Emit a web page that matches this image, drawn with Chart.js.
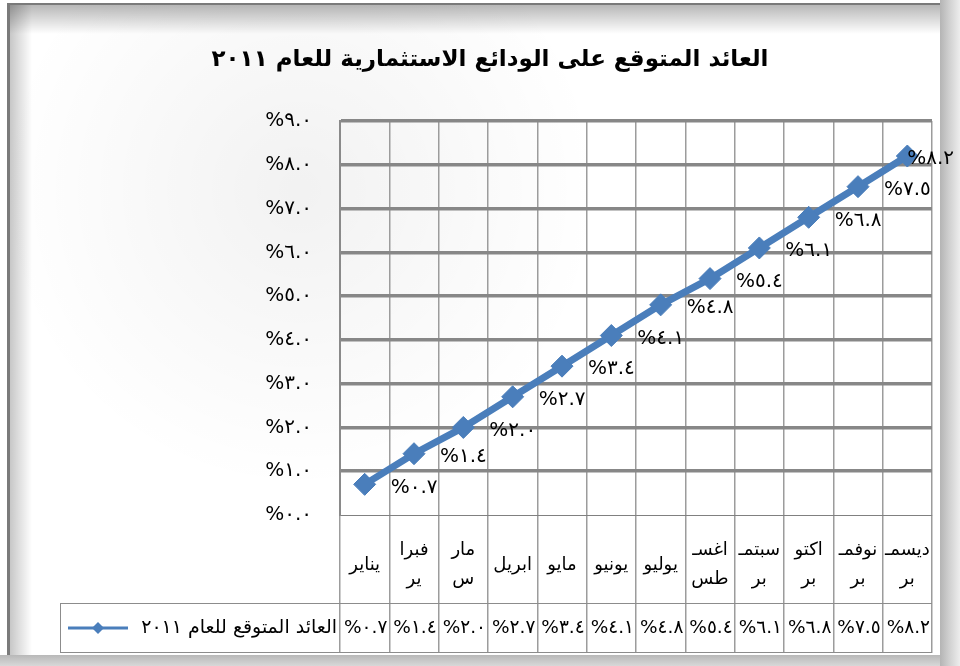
<!DOCTYPE html>
<html><head><meta charset="utf-8">
<script src="https://cdn.jsdelivr.net/npm/chart.js@4.4.1/dist/chart.umd.min.js"></script>
<style>html,body{margin:0;padding:0;background:#fff;overflow:hidden}#wrap{width:960px;height:666px;position:relative}canvas{display:block}</style>
</head><body><div id="wrap"><canvas id="c" width="960" height="666"></canvas></div>
<script>
const chartTitle = 'العائد المتوقع على الودائع الاستثمارية للعام ٢٠١١';
const seriesName = 'العائد المتوقع للعام ٢٠١١';
const categories = [['يناير'], ['فبرا', 'ير'], ['مار', 'س'], ['ابريل'], ['مايو'], ['يونيو'], ['يوليو'], ['اغسـ', 'طس'], ['سبتمـ', 'بر'], ['اكتو', 'بر'], ['نوفمـ', 'بر'], ['ديسمـ', 'بر']];
const seriesValues = [0.7, 1.4, 2.0, 2.7, 3.4, 4.1, 4.8, 5.4, 6.1, 6.8, 7.5, 8.2];
const yTickValues = [0, 1, 2, 3, 4, 5, 6, 7, 8, 9];
const yTickLabels = ['%٠.٠', '%١.٠', '%٢.٠', '%٣.٠', '%٤.٠', '%٥.٠', '%٦.٠', '%٧.٠', '%٨.٠', '%٩.٠'];

const FONT = "'DejaVu Sans', 'Noto Sans', sans-serif";
const LINE_COLOR = '#4a7ebb';
const AR_DIGITS = '٠١٢٣٤٥٦٧٨٩';
function toArabicDigits(s) { return s.replace(/[0-9]/g, d => AR_DIGITS[+d]); }
function pctLabel(v) { return '%' + toArabicDigits(v.toFixed(1)); }

const framePlugin = {
  id: 'frame',
  beforeDraw(chart) {
    const ctx = chart.ctx, W = chart.width, H = chart.height;
    ctx.save();
    ctx.fillStyle = '#fff';
    ctx.fillRect(0, 0, W, H);
    const rg = ctx.createRadialGradient(300, 190, 10, 300, 190, 300);
    rg.addColorStop(0, 'rgba(0,0,0,0.05)');
    rg.addColorStop(1, 'rgba(0,0,0,0)');
    ctx.fillStyle = rg;
    ctx.fillRect(10, 5, 930, 650);
    let g = ctx.createLinearGradient(940, 0, 960, 0);
    g.addColorStop(0, '#b4b4b4'); g.addColorStop(0.5, '#d2d2d2'); g.addColorStop(1, '#ededed');
    ctx.fillStyle = g; ctx.fillRect(940, 0, 20, H);
    g = ctx.createLinearGradient(0, 655, 0, 666);
    g.addColorStop(0, '#b8b8b8'); g.addColorStop(1, '#d8d8d8');
    ctx.fillStyle = g; ctx.fillRect(0, 655, 940, 11);
    g = ctx.createLinearGradient(0, 5, 0, 34);
    g.addColorStop(0, 'rgba(0,0,0,0.28)'); g.addColorStop(1, 'rgba(0,0,0,0)');
    ctx.fillStyle = g; ctx.fillRect(10, 5, 930, 29);
    g = ctx.createLinearGradient(10, 0, 32, 0);
    g.addColorStop(0, 'rgba(0,0,0,0.22)'); g.addColorStop(1, 'rgba(0,0,0,0)');
    ctx.fillStyle = g; ctx.fillRect(10, 5, 22, 650);
    ctx.fillStyle = '#7a7a7a';
    ctx.fillRect(7, 3, 3, 652);
    ctx.fillRect(7, 3, 933, 2);
    ctx.restore();
  }
};

const labelPlugin = {
  id: 'pointLabels',
  afterDatasetsDraw(chart) {
    const ctx = chart.ctx;
    const meta = chart.getDatasetMeta(0);
    ctx.save();
    ctx.font = '20px ' + FONT;
    ctx.fillStyle = '#000';
    ctx.textBaseline = 'middle';
    ctx.textAlign = 'left';
    meta.data.forEach((pt, i) => {
      const t = pctLabel(seriesValues[i]);
      const w = ctx.measureText(t).width;
      const x = Math.min(pt.x + 26, 954 - w);
      ctx.fillText(t, x, pt.y + 3);
    });
    ctx.restore();
  }
};

const tablePlugin = {
  id: 'dataTable',
  afterDraw(chart) {
    const ctx = chart.ctx;
    const xs = chart.scales.x;
    const top = chart.chartArea.bottom + 88, bottom = chart.chartArea.bottom + 138;
    const left = 60, right = chart.chartArea.right;
    ctx.save();
    ctx.strokeStyle = '#8c8c8c';
    ctx.lineWidth = 1;
    ctx.beginPath();
    ctx.moveTo(left, top + 0.5); ctx.lineTo(right, top + 0.5);
    ctx.moveTo(left, bottom - 0.5); ctx.lineTo(right, bottom - 0.5);
    ctx.moveTo(left + 0.5, top); ctx.lineTo(left + 0.5, bottom);
    ctx.stroke();
    const cy = (top + bottom) / 2;
    ctx.strokeStyle = LINE_COLOR; ctx.lineWidth = 3;
    ctx.beginPath(); ctx.moveTo(68, cy); ctx.lineTo(128, cy); ctx.stroke();
    ctx.fillStyle = LINE_COLOR;
    ctx.beginPath(); ctx.moveTo(98, cy - 6); ctx.lineTo(104, cy); ctx.lineTo(98, cy + 6); ctx.lineTo(92, cy); ctx.closePath(); ctx.fill();
    ctx.fillStyle = '#000';
    ctx.font = '19px ' + FONT;
    ctx.textBaseline = 'middle';
    ctx.textAlign = 'right';
    ctx.fillText(seriesName, 337, cy);
    ctx.font = '18.5px ' + FONT;
    ctx.textAlign = 'center';
    seriesValues.forEach((v, i) => {
      ctx.fillText(pctLabel(v), xs.getPixelForValue(i) + 1, cy);
    });
    ctx.restore();
  }
};

new Chart(document.getElementById('c'), {
  type: 'line',
  data: {
    labels: categories,
    datasets: [{
      label: seriesName,
      data: seriesValues,
      borderColor: LINE_COLOR,
      backgroundColor: LINE_COLOR,
      borderWidth: 7,
      pointStyle: 'rectRot',
      pointRadius: 11,
      pointBackgroundColor: LINE_COLOR,
      pointBorderColor: LINE_COLOR,
      pointBorderWidth: 1,
      tension: 0,
      fill: false
    }]
  },
  options: {
    responsive: false,
    animation: false,
    devicePixelRatio: 1,
    layout: { padding: { left: 48, right: 28, top: 0, bottom: 13 } },
    plugins: {
      legend: { display: false },
      tooltip: { enabled: false },
      title: {
        display: true, text: chartTitle, color: '#000',
        font: { family: FONT, size: 23, weight: 'bold' },
        padding: { top: 46, bottom: 47.4 }
      }
    },
    scales: {
      x: {
        type: 'category',
        offset: true,
        grid: { offset: true, color: '#9c9c9c', lineWidth: 1.5, drawTicks: true, tickLength: 138, tickColor: '#9c9c9c', tickWidth: 1.5 },
        border: { display: true, color: '#808080', width: 1 },
        ticks: { autoSkip: false, maxRotation: 0, minRotation: 0, padding: -103, crossAlign: 'center', color: '#000', font: { family: FONT, size: 18, lineHeight: 1.65 } },
        afterFit(s) { s.height = 138; }
      },
      y: {
        min: 0, max: 9,
        ticks: { stepSize: 1, padding: 28, color: '#000', font: { family: FONT, size: 20 },
          callback: (v) => yTickLabels[yTickValues.indexOf(v)] },
        grid: { drawTicks: false, color: (c) => (c.tick && c.tick.value === 0) ? '#808080' : '#878787',
          lineWidth: (c) => (c.tick && c.tick.value === 0) ? 1 : 3.5 },
        border: { display: true, color: '#8a8a8a', width: 2 },
        afterFit(s) { s.width = 292; }
      }
    }
  },
  plugins: [framePlugin, labelPlugin, tablePlugin]
});
</script></body></html>
